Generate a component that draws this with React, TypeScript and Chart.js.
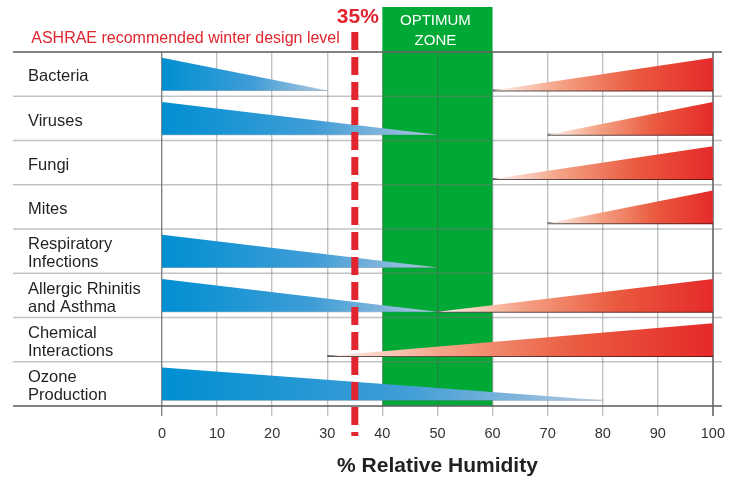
import React, { useEffect, useRef } from 'react';
import { Chart, registerables } from 'chart.js';

Chart.register(...registerables);

// ---- data ----
const categories: (string | string[])[] = [
  'Bacteria',
  'Viruses',
  'Fungi',
  'Mites',
  ['Respiratory', 'Infections'],
  ['Allergic Rhinitis', 'and Asthma'],
  ['Chemical', 'Interactions'],
  ['Ozone', 'Production'],
];
// blue wedge: risk falls from 0 %RH down to this value
const lowHumidityEnd: (number | null)[] = [30, 50, null, null, 50, 50, null, 80];
// red wedge: risk rises from this value up to 100 %RH
const highHumidityStart: (number | null)[] = [60, 70, 60, 70, null, 50, 30, null];
const xTickValues = [0, 10, 20, 30, 40, 50, 60, 70, 80, 90, 100];
const optimumZone = [40, 60];
const ashraeLevel = 35;
const ashraeLabel = 'ASHRAE recommended winter design level';
const ashraeValueLabel = '35%';
const optimumLabel = ['OPTIMUM', 'ZONE'];
const xTitle = '% Relative Humidity';

// ---- style constants ----
const FONT = '"Liberation Sans", Arial, Helvetica, sans-serif';
const WEDGE_TOP = 0.13;
const WEDGE_BOTTOM = 0.87;
const LABEL_OFFSET = 0.56;
const BLUE_STOPS: [number, string][] = [
  [0, '#008fd2'],
  [0.55, '#3f9dd6'],
  [1, '#b3c8df'],
];
const RED_STOPS: [number, string][] = [
  [0, '#fff3ee'],
  [0.3, '#f4a386'],
  [0.65, '#ea5a3f'],
  [1, '#e52a2a'],
];
const RED_BASE_STOPS: [number, string][] = [
  [0, '#5a5a5a'],
  [1, '#6e1212'],
];

function makeGradient(ctx: any, x0: number, x1: number, stops: [number, string][]) {
  const chart = ctx.chart;
  const xs = chart.scales && chart.scales.x;
  if (!chart.chartArea || !xs) return stops[stops.length - 1][1];
  const p0 = xs.getPixelForValue(x0);
  const p1 = xs.getPixelForValue(x1);
  const g = chart.ctx.createLinearGradient(p0, 0, p1, 0);
  stops.forEach(([o, c]) => g.addColorStop(o, c));
  return g;
}

function buildDatasets() {
  const ds: any[] = [];
  const base = {
    type: 'line',
    pointRadius: 0,
    pointHoverRadius: 0,
    tension: 0,
  };
  lowHumidityEnd.forEach((end, i) => {
    if (end === null) return;
    ds.push({
      ...base,
      data: [
        { x: 0, y: i + WEDGE_TOP },
        { x: end, y: i + WEDGE_BOTTOM },
      ],
      fill: { value: i + WEDGE_BOTTOM },
      borderWidth: 0,
      borderColor: 'rgba(0,0,0,0)',
      backgroundColor: (c: any) => makeGradient(c, 0, end, BLUE_STOPS),
    });
    ds.push({
      ...base,
      data: [
        { x: 0, y: i + WEDGE_BOTTOM },
        { x: end, y: i + WEDGE_BOTTOM },
      ],
      fill: false,
      borderWidth: 1,
      borderColor: 'rgba(90,110,135,0.55)',
    });
  });
  highHumidityStart.forEach((start, i) => {
    if (start === null) return;
    ds.push({
      ...base,
      data: [
        { x: start, y: i + WEDGE_BOTTOM },
        { x: 100, y: i + WEDGE_TOP },
      ],
      fill: { value: i + WEDGE_BOTTOM },
      borderWidth: 0,
      borderColor: 'rgba(0,0,0,0)',
      backgroundColor: (c: any) => makeGradient(c, start, 100, RED_STOPS),
    });
    ds.push({
      ...base,
      data: [
        { x: start, y: i + WEDGE_BOTTOM },
        { x: 100, y: i + WEDGE_BOTTOM },
      ],
      fill: false,
      borderWidth: 2,
      borderColor: (c: any) => makeGradient(c, start, 100, RED_BASE_STOPS),
    });
  });
  return ds;
}

const decorPlugin = {
  id: 'humidityDecor',
  beforeDraw(chart: any) {
    const { ctx, chartArea, scales } = chart;
    const xs = scales.x;
    const x0 = xs.getPixelForValue(optimumZone[0]);
    const x1 = xs.getPixelForValue(optimumZone[1]);
    ctx.save();
    ctx.fillStyle = '#00a835';
    ctx.fillRect(x0, 7, x1 - x0, chartArea.bottom - 7);
    ctx.restore();
  },
  beforeDatasetsDraw(chart: any) {
    const { ctx, chartArea, scales } = chart;
    const ys = scales.y;
    ctx.save();
    for (let i = 0; i <= categories.length; i++) {
      const y = ys.getPixelForValue(i);
      const edge = i === 0 || i === categories.length;
      ctx.strokeStyle = edge ? 'rgba(100,100,100,0.8)' : 'rgba(120,120,120,0.45)';
      ctx.lineWidth = edge ? 2 : 1.6;
      ctx.beginPath();
      ctx.moveTo(13, y);
      ctx.lineTo(chartArea.right + 9, y);
      ctx.stroke();
    }
    ctx.restore();
  },
  afterDatasetsDraw(chart: any) {
    const { ctx, chartArea, scales } = chart;
    const xs = scales.x;
    const xa = xs.getPixelForValue(ashraeLevel);
    ctx.save();
    // dashed ASHRAE line
    ctx.strokeStyle = '#e0252e';
    ctx.lineWidth = 7;
    ctx.setLineDash([18, 7]);
    ctx.beginPath();
    ctx.moveTo(xa, 32);
    ctx.lineTo(xa, chartArea.bottom + 30);
    ctx.stroke();
    ctx.setLineDash([]);
    // labels
    ctx.fillStyle = '#e0252e';
    ctx.textBaseline = 'middle';
    ctx.font = `bold 21px ${FONT}`;
    ctx.textAlign = 'center';
    ctx.fillText(ashraeValueLabel, xa + 3, 17);
    ctx.font = `16px ${FONT}`;
    ctx.textAlign = 'right';
    ctx.fillText(ashraeLabel, xa - 15, 39);
    // optimum zone label
    const zc = (xs.getPixelForValue(optimumZone[0]) + xs.getPixelForValue(optimumZone[1])) / 2 - 2;
    ctx.fillStyle = '#ffffff';
    ctx.textAlign = 'center';
    ctx.font = `15px ${FONT}`;
    ctx.fillText(optimumLabel[0], zc, 21);
    ctx.fillText(optimumLabel[1], zc, 41);
    ctx.restore();
  },
};

export default function App() {
  const ref = useRef<HTMLCanvasElement | null>(null);
  useEffect(() => {
    if (!ref.current) return;
    const chart = new Chart(ref.current, {
      type: 'line',
      data: { datasets: buildDatasets() },
      options: {
        animation: false,
        responsive: true,
        maintainAspectRatio: false,
        layout: { padding: { left: 28, top: 52, right: 21, bottom: 0 } },
        plugins: {
          legend: { display: false },
          tooltip: { enabled: false },
        },
        events: [],
        scales: {
          x: {
            type: 'linear',
            min: 0,
            max: 100,
            afterBuildTicks: (s: any) => {
              s.ticks = xTickValues.map((v) => ({ value: v }));
            },
            ticks: {
              font: { family: FONT, size: 14.5 },
              color: '#333333',
              padding: 9,
              maxRotation: 0,
            },
            grid: {
              color: (c: any) =>
                c.tick && (c.tick.value === 0 || c.tick.value === 100)
                  ? 'rgba(90,90,90,0.75)'
                  : 'rgba(80,80,80,0.35)',
              lineWidth: (c: any) => (c.tick && c.tick.value === 100 ? 2 : 1.4),
              tickLength: 10,
            },
            border: { display: false },
            title: {
              display: true,
              text: xTitle,
              font: { family: FONT, size: 21, weight: 'bold' },
              color: '#222222',
              padding: { top: 0, bottom: 1 },
            },
            afterFit: (s: any) => {
              s.height = 74;
            },
          },
          y: {
            type: 'linear',
            min: 0,
            max: categories.length,
            reverse: true,
            afterBuildTicks: (s: any) => {
              s.ticks = categories.map((_, i) => ({ value: i + LABEL_OFFSET }));
            },
            ticks: {
              crossAlign: 'far',
              font: { family: FONT, size: 16.5, lineHeight: 1.1 },
              color: '#231f20',
              padding: 0,
              callback: (v: any) => categories[Math.round(Number(v) - LABEL_OFFSET)] as any,
            },
            grid: { display: false },
            border: { display: false },
            afterFit: (s: any) => {
              s.width = 134;
            },
          },
        },
      } as any,
      plugins: [decorPlugin],
    });
    return () => chart.destroy();
  }, []);
  return (
    <div style={{ position: 'absolute', left: 0, top: 0, width: 734, height: 480, background: '#fff' }}>
      <canvas ref={ref} />
    </div>
  );
}
